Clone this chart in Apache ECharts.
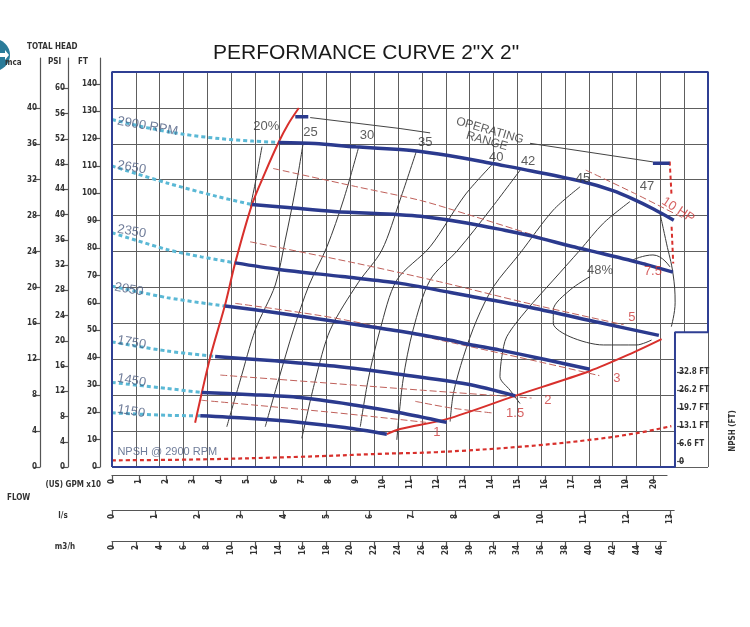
<!DOCTYPE html>
<html>
<head>
<meta charset="utf-8">
<title>Performance curve 2"x2"</title>
<script src="https://cdn.jsdelivr.net/npm/echarts@6/dist/echarts.min.js"></script>
<style>
  html, body { margin: 0; padding: 0; background: #fff; }
  #chart { width: 750px; height: 627px; }
</style>
</head>
<body>
<div id="chart"></div>
<script>
// flow is read in (US) GPM x10, head in ft

// unit conversions
const M3H_TO_Q = 1 / 2.27125;   // 1 m3/h in GPM x10
const LS_TO_Q = 1.58503;        // 1 l/s in GPM x10
const M_TO_FT = 3.28084;
const FT_TO_PSI = 0.433527;

// tick labels
const ftTicks = [0, 10, 20, 30, 40, 50, 60, 70, 80, 90, 100, 110, 120, 130, 140];
const psiTicks = [0, 4, 8, 12, 16, 20, 24, 28, 32, 36, 40, 44, 48, 52, 56, 60];
const mcaTicks = [0, 4, 8, 12, 16, 20, 24, 28, 32, 36, 40];
const gpmTicks = [0, 1, 2, 3, 4, 5, 6, 7, 8, 9, 10, 11, 12, 13, 14, 15, 16, 17, 18, 19, 20];
const lsTicks = [0, 1, 2, 3, 4, 5, 6, 7, 8, 9, 10, 11, 12, 13];
const m3hTicks = [0, 2, 4, 6, 8, 10, 12, 14, 16, 18, 20, 22, 24, 26, 28, 30, 32, 34, 36, 38, 40, 42, 44, 46];
const npshTicks = [0, 6.6, 13.1, 19.7, 26.2, 32.8];

// speeds
const speedNames = ["2900 RPM", "2650", "2350", "2050", "1750", "1450", "1150"];

// head curves [flow, head ft]
const head2900 = [[6.15,118.6],[7.5,118.2],[9,117],[10.64,116],[11.4,115.3],[12.8,113.2],[14.1,110.8],[15.5,108.2],[17.3,104.5],[18.5,101],[19.25,97.9],[20,94.3],[20.75,90.2]];
const head2650 = [[5.17,95.9],[6.5,94.8],[8.2,93.4],[10.6,92.2],[11.4,91.6],[13.1,89.2],[14.5,86.5],[15.55,84.3],[17,80.6],[18,78.3],[19.5,74.6],[20.72,71.2]];
const head2350 = [[4.55,74.6],[6.1,72.3],[8.5,69.6],[10.6,67.2],[12.5,63.8],[13.2,62.5],[15.5,58.2],[18,52.8],[20.2,48.1]];
const head2050 = [[4.18,58.8],[6,56.5],[8.2,53.3],[10.6,49.7],[12.5,46.3],[13.2,44.8],[14.3,42.8],[16,39.3],[17.65,35.7]];
const head1750 = [[3.81,40.4],[6,38.8],[8.2,36.9],[10.6,33.9],[13.1,30.3],[14.9,26]];
const head1450 = [[3.32,27.2],[5,26.5],[6.95,25.4],[9,22.6],[10.6,19.9],[12.36,16.3]];
const head1150 = [[3.26,18.7],[5,17.8],[6.95,16.3],[8.6,14.4],[10.15,12]];

// dashed curve parts below minimum flow
const lead2900 = [[0,127],[1.3,124],[2.64,121.6],[4,120],[5.2,119.1],[6.15,118.6]];
const lead2650 = [[0,110],[2.03,103.8],[3.87,98.9],[5.17,95.9]];
const lead2350 = [[0,85.6],[2.03,79.5],[3.3,76.8],[4.55,74.6]];
const lead2050 = [[0,66.1],[2.03,61.9],[4.18,58.8]];
const lead1750 = [[0,45.7],[2.03,42.4],[3.81,40.4]];
const lead1450 = [[0,30.9],[2.03,28.7],[3.32,27.2]];
const lead1150 = [[0,19.8],[2,18.9],[3.26,18.7]];

// limits
const minFlowLine = [[3.07,16.2],[3.63,40.2],[4.18,59.4],[4.55,74.6],[5.17,95.9],[5.65,107.5],[6.15,118.6],[6.5,125.2],[6.9,131.2]];
const maxFlowLine = [[10.15,12],[10.64,13.9],[12.36,17.5],[14.88,26],[17.65,35.1],[19.25,41.8],[20.3,46.7]];

// efficiency
const effNames = ["20%", "25", "30", "35", "40", "42", "45", "47", "48%"];
const eff20 = [[5.54,117.1],[5.29,103.7],[5.11,95.1]];
const eff25 = [[7.06,118.3],[6.77,101.2],[6.4,83],[6.03,66.5],[5.29,50.1],[4.74,31.8],[4.24,14.7]];
const eff30 = [[9.1,116.5],[8.55,97.6],[7.94,80.5],[7.28,66.5],[6.7,50.1],[6.15,31.8],[5.66,14.7]];
const eff35 = [[11.26,115.9],[10.64,97.6],[9.97,79.3],[9.09,67.3],[8.06,50.1],[7.51,31.8],[7.01,10.5]];
const eff40 = [[14.03,110.4],[13.04,99.4],[11.75,80.5],[10.52,68.3],[9.9,50.1],[9.46,31.8],[9.17,14.7]];
const eff42 = [[15.13,109.2],[13.96,93.9],[12.78,79.3],[11.75,68.3],[11.12,50.1],[10.75,31.8],[10.52,9.9]];
const eff45 = [[17.29,102.4],[16.3,93.9],[15.07,78.1],[14.09,65.9],[13.47,53.7],[12.98,40.3],[12.61,26.9],[12.49,16.6]];
const eff47 = [[19.13,97],[18.15,89.1],[17.29,79.3],[16.3,68.3],[15.32,57.4],[14.58,47.6],[14.4,40.3],[14.33,33],[14.7,28.1],[15.07,23.2]];
const eff48 = [[17.66,69.6],[16.92,64.7],[16.3,57.4],[16.3,52.5],[16.92,47.6],[18.15,44.6],[19.38,44.6],[19.93,46.4]];
const effLabelAt = [[5.7,124.3],[7.33,122.1],[9.42,121],[11.57,118.8],[14.19,113.3],[15.37,111.5],[17.4,105.6],[19.76,102.7],[18.03,72]];
const endLine = [[20.24,92.7],[20.48,81.8],[20.72,70.8],[20.8,60],[20.66,51.3]];
const endArc = [[19.24,75.7],[19.98,77.5],[20.61,73.1]];

// power (HP)
const hpNames = ["1", "1.5", "2", "3", "5", "7.5", "10 HP"];
const hp1 = [[3.3,24.4],[8.2,19.9],[11.6,16.3]];
const hp1_5 = [[11.2,24],[12.5,21.6],[14.1,19.7]];
const hp2 = [[4,33.6],[8.2,30.5],[11.4,28.1],[15.5,25.2]];
const hp3 = [[4.55,59.8],[8.2,54.5],[12.1,46.4],[15.8,38.4],[18,33.4]];
const hp5 = [[5.1,82.3],[9,74.5],[12.1,67.7],[15.5,59.5],[18.9,52]];
const hp7_5 = [[5.95,109.1],[9,102.5],[11.4,97.4],[13.2,92.1],[17.2,80],[19.74,74.4]];
const hp10 = [[17.5,108.5],[19.3,100],[21.1,91]];
const hpLabelAt = [[12,12.8],[14.89,19.4],[16.1,24.5],[18.65,32.5],[19.2,54.5],[19.98,71.3],[20.91,93.9]];

// operating range
const rangeLine = [[7.32,127.7],[10.64,123.7],[11.75,122.1],null,[15.44,118.3],[19.98,111.5]];
const rangeStart = [[6.77,128],[7.25,128]];
const rangeEnd = [[19.98,111],[20.6,111]];
const motorLimit = [[20.6,111.6],[20.67,98.8],null,[20.67,87.8],[20.73,74.4]];

// NPSH @ 2900 rpm [flow, NPSH ft]
const npsh2900 = [[0,0.5],[3,0.8],[7,1.8],[10,2.9],[12,3.5],[15,5.4],[17.5,7.8],[19.3,10.3],[20.66,13]];

// ---- layout ----
const plotL = 112, plotT = 72, plotW = 596, plotH = 395;
const headTopM = 44, flowTopM3h = 50;          // frame in metric units
const notchM3h = 47.23, notchM = 15;
const pxPerQ = plotW / (flowTopM3h * M3H_TO_Q);
const headTopFt = headTopM * M_TO_FT;
const axisTop = 58;
const ftAxisMax = headTopFt * (plotT + plotH - axisTop) / plotH;
const npshOffFt = 1.94;

const tickFont = { fontFamily: 'DejaVu Sans Condensed', fontWeight: 'bold', fontSize: 8, color: '#333' };
const greyLine = { color: '#555', width: 1.2 };

function leftAxis(max, ticks, offset) {
  return {
    type: 'value', gridIndex: 1, position: 'left', offset: offset, min: 0, max: max,
    axisLine: { show: true, lineStyle: greyLine },
    axisTick: { show: true, length: 6, lineStyle: greyLine, customValues: ticks },
    axisLabel: Object.assign({ margin: 3, customValues: ticks }, tickFont),
    splitLine: { show: false }
  };
}
function flowAxis(grid, max, ticks) {
  return {
    type: 'value', gridIndex: grid, position: 'bottom', min: 0, max: max,
    axisLine: { show: true, lineStyle: greyLine },
    axisTick: { show: true, length: 8, lineStyle: greyLine, customValues: ticks },
    axisLabel: Object.assign({ margin: 4, rotate: 90, customValues: ticks }, tickFont),
    splitLine: { show: false }
  };
}
function hidden(grid, min, max) {
  return { type: 'value', gridIndex: grid, min: min, max: max, show: false, splitLine: { show: false } };
}
function line(data, style, extra) {
  return Object.assign({
    type: 'line', data: data, xAxisIndex: 1, yAxisIndex: 1, symbol: 'none',
    silent: true, connectNulls: false, lineStyle: style
  }, extra || {});
}
function labels(names, at, style) {
  return {
    type: 'scatter', xAxisIndex: 1, yAxisIndex: 1, symbolSize: 0, silent: true, z: 6,
    data: names.map((n, i) => ({ value: at[i], label: Object.assign({ show: true, formatter: n, position: 'inside' }, style(i)) }))
  };
}

const blue = '#2b3a8e';
const heads = [head2900, head2650, head2350, head2050, head1750, head1450, head1150];
const leads = [lead2900, lead2650, lead2350, lead2050, lead1750, lead1450, lead1150];
const effs = [eff20, eff25, eff30, eff35, eff40, eff42, eff45, eff47, eff48];
const hps = [hp1, hp1_5, hp2, hp3, hp5, hp7_5, hp10];
const rpmLabelAt = [[0.2,126.5],[0.2,110.4],[0.2,87],[0.1,65.8],[0.2,46.4],[0.2,32.5],[0.2,21.2]];

const series = [];
// white notch over the grid, then the blue frame
series.push({
  type: 'line', xAxisIndex: 0, yAxisIndex: 0, symbol: 'none', silent: true, z: 1,
  data: [[notchM3h, notchM], [flowTopM3h, notchM]],
  lineStyle: { opacity: 0 }, areaStyle: { color: '#fff', opacity: 1 }
});
series.push({
  type: 'line', xAxisIndex: 0, yAxisIndex: 0, symbol: 'none', silent: true, z: 7, clip: false,
  data: [[0, 0], [0, headTopM], [flowTopM3h, headTopM], [flowTopM3h, notchM], [notchM3h, notchM], [notchM3h, 0], [0, 0]],
  lineStyle: { color: '#2f3f93', width: 2 }
});
effs.forEach(d => series.push(line(d, { color: '#3a3a3a', width: 1 }, { smooth: 0.3, z: 3 })));
series.push(line(endLine, { color: '#3a3a3a', width: 1 }, { smooth: 0.4, z: 3 }));
series.push(line(endArc, { color: '#3a3a3a', width: 1 }, { smooth: 0.5, z: 3 }));
hps.forEach(d => series.push(line(d, { color: '#c0605a', width: 1, type: [7, 3] }, { smooth: 0.3, z: 3 })));
leads.forEach(d => series.push(line(d, { color: '#5ab8d5', width: 3, type: [4, 3] }, { smooth: 0.3, z: 4 })));
series.push(line(rangeLine, { color: '#444', width: 1 }, { z: 3 }));
series.push(line(motorLimit, { color: '#d8302c', width: 2, type: [4, 3] }, { z: 4 }));
series.push(line(npsh2900, { color: '#d8302c', width: 2.2, type: [4, 3] }, { smooth: 0.4, yAxisIndex: 2, z: 4 }));
series.push(line(minFlowLine, { color: '#d8302c', width: 2 }, { smooth: 0.3, z: 4 }));
series.push(line(maxFlowLine, { color: '#d8302c', width: 2 }, { smooth: 0.3, z: 4 }));
heads.forEach(d => series.push(line(d, { color: blue, width: 3.5 }, { smooth: 0.3, z: 5 })));
series.push(line(rangeStart, { color: blue, width: 3.5 }, { z: 5 }));
series.push(line(rangeEnd, { color: blue, width: 3.5 }, { z: 5 }));

const sans = 'Liberation Sans';
series.push(labels(speedNames, rpmLabelAt, () => ({ align: 'left', verticalAlign: 'middle', rotate: -10, fontFamily: sans, fontSize: 13, color: '#4b5b80' })));
series.push(labels(effNames, effLabelAt, () => ({ align: 'center', verticalAlign: 'middle', fontFamily: sans, fontSize: 13, color: '#333' })));
series.push(labels(hpNames, hpLabelAt, i => ({ align: 'center', verticalAlign: 'middle', rotate: i === 6 ? -33 : 0, fontFamily: sans, fontSize: 13, color: '#cc3a3a' })));
series.push(labels(["NPSH @ 2900 RPM", "OPERATING\nRANGE"], [[0.2, 5.5], [13.9, 121]], i => (i === 0
  ? { align: 'left', verticalAlign: 'middle', fontFamily: sans, fontSize: 11, color: '#4b5b80' }
  : { align: 'center', verticalAlign: 'middle', rotate: -16, fontFamily: sans, fontSize: 12, lineHeight: 11, color: '#333' })));

const headerFont = 'bold 8px "DejaVu Sans Condensed"';
const option = {
  animation: false,
  backgroundColor: '#fff',
  title: {
    text: 'PERFORMANCE CURVE 2"X 2"', left: 208, top: 38,
    textStyle: { fontFamily: sans, fontSize: 21, fontWeight: 'normal', color: '#1a1a1a' }
  },
  grid: [
    { left: plotL, top: plotT, width: plotW, height: plotH },
    { left: 100, top: axisTop, width: 1, height: plotT + plotH - axisTop },
    { left: plotL, top: 474, width: 20.5 * pxPerQ, height: 1 },
    { left: plotL, top: 509, width: 13.1 * LS_TO_Q * pxPerQ, height: 1 },
    { left: plotL, top: 540, width: 46.5 * M3H_TO_Q * pxPerQ, height: 1 }
  ],
  xAxis: [
    { type: 'value', gridIndex: 0, min: 0, max: flowTopM3h, interval: 2,
      axisLine: { show: false }, axisTick: { show: false }, axisLabel: { show: false },
      splitLine: { show: true, lineStyle: { color: '#5e5e5e', width: 1 } } },
    hidden(0, 0, flowTopM3h * M3H_TO_Q),
    hidden(1, 0, 1),
    flowAxis(2, 20.5, gpmTicks),
    flowAxis(3, 13.1, lsTicks),
    flowAxis(4, 46.5, m3hTicks)
  ],
  yAxis: [
    { type: 'value', gridIndex: 0, min: 0, max: headTopM, interval: 4,
      axisLine: { show: false }, axisTick: { show: false }, axisLabel: { show: false },
      splitLine: { show: true, lineStyle: { color: '#5e5e5e', width: 1 } } },
    hidden(0, 0, headTopFt),
    { type: 'value', gridIndex: 0, position: 'right', offset: -31, z: 8,
      min: -npshOffFt, max: headTopFt - npshOffFt,
      axisLine: { show: false },
      axisTick: { show: true, length: 7, lineStyle: greyLine, customValues: npshTicks },
      axisLabel: Object.assign({ margin: 2, customValues: npshTicks,
        formatter: v => v === 0 ? '0' : v.toFixed(1) + ' FT' }, tickFont),
      splitLine: { show: false } },
    leftAxis(ftAxisMax, ftTicks, 0),
    leftAxis(ftAxisMax * FT_TO_PSI, psiTicks, 32),
    leftAxis(ftAxisMax / M_TO_FT, mcaTicks, 60),
    hidden(2, 0, 1),
    hidden(3, 0, 1),
    hidden(4, 0, 1)
  ],
  graphic: [
    { type: 'circle', shape: { cx: -6, cy: 55, r: 16 }, style: { fill: '#2a7b99' } },
    { type: 'polygon', shape: { points: [[0, 53], [5, 53], [5, 50], [9, 55], [5, 60], [5, 57], [0, 57]] }, style: { fill: '#fff' } },
    { type: 'text', x: 27, y: 47, style: { text: 'TOTAL HEAD', font: headerFont, fill: '#333', verticalAlign: 'middle' } },
    { type: 'text', x: 5, y: 63, style: { text: 'mca', font: headerFont, fill: '#333', verticalAlign: 'middle' } },
    { type: 'text', x: 48, y: 62, style: { text: 'PSI', font: headerFont, fill: '#333', verticalAlign: 'middle' } },
    { type: 'text', x: 78, y: 62, style: { text: 'FT', font: headerFont, fill: '#333', verticalAlign: 'middle' } },
    { type: 'text', x: 101, y: 485, style: { text: '(US) GPM x10', font: headerFont, fill: '#333', align: 'right', verticalAlign: 'middle' } },
    { type: 'text', x: 7, y: 498, style: { text: 'FLOW', font: headerFont, fill: '#333', verticalAlign: 'middle' } },
    { type: 'text', x: 63, y: 516, style: { text: 'l/s', font: headerFont, fill: '#333', align: 'center', verticalAlign: 'middle' } },
    { type: 'text', x: 65, y: 547, style: { text: 'm3/h', font: headerFont, fill: '#333', align: 'center', verticalAlign: 'middle' } },
    { type: 'text', x: 733, y: 431, rotation: Math.PI / 2, style: { text: 'NPSH (FT)', font: headerFont, fill: '#333', align: 'center', verticalAlign: 'middle' } }
  ],
  series: series
};

const chart = echarts.init(document.getElementById('chart'), null, { renderer: 'canvas' });
chart.setOption(option);
</script>
</body>
</html>
